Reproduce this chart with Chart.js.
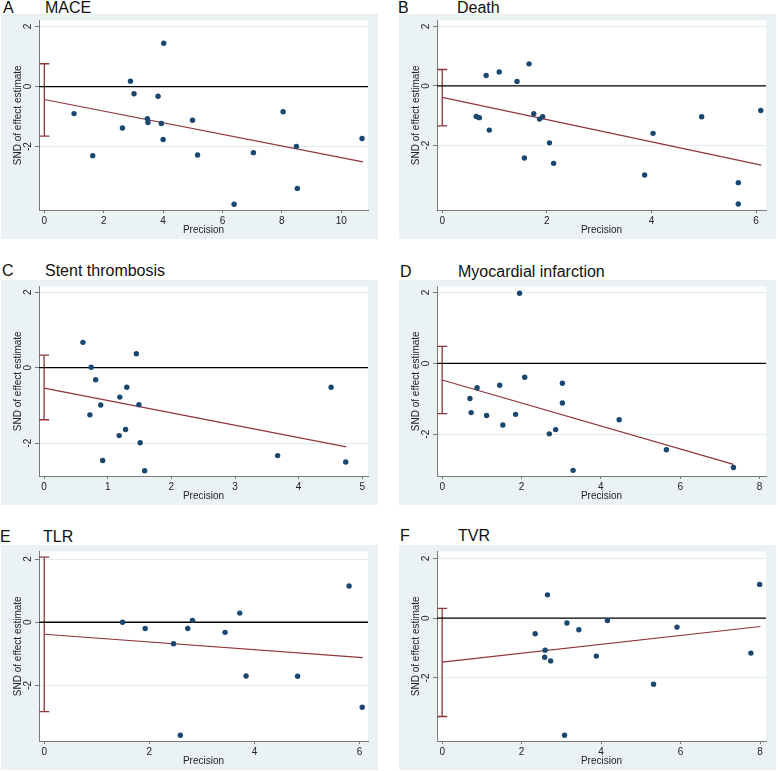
<!DOCTYPE html>
<html>
<head>
<meta charset="utf-8">
<script src="https://cdn.jsdelivr.net/npm/chart.js@4.4.1/dist/chart.umd.min.js"></script>
<style>
body{margin:0;background:#fff;width:778px;height:771px;position:relative;overflow:hidden;font-family:"Liberation Sans",Arial,sans-serif}
.panel{position:absolute;width:377px;height:225px;background:#eaf2f3}
.ttl{position:absolute;font-size:16px;line-height:15px;color:#111;white-space:nowrap}
</style>
</head>
<body>
<script>
// titles
var letters = ['A', 'B', 'C', 'D', 'E', 'F']
var outcomes = ['MACE', 'Death', 'Stent thrombosis', 'Myocardial infarction', 'TLR', 'TVR']

// tick labels
var yTicks = [-2, 0, 2]
var xTicksA = [0, 2, 4, 6, 8, 10]
var xTicksB = [0, 2, 4, 6]
var xTicksC = [0, 1, 2, 3, 4, 5]
var xTicksD = [0, 2, 4, 6, 8]
var xTicksE = [0, 2, 4, 6]
var xTicksF = [0, 2, 4, 6, 8]

// axis ranges [min, max]
var xRangeA = [-0.18, 10.9], yRangeA = [-4.11, 2.2]
var xRangeB = [-0.1, 6.19], yRangeB = [-4.18, 2.2]
var xRangeC = [-0.08, 5.09], yRangeC = [-2.87, 2.15]
var xRangeD = [-0.13, 8.16], yRangeD = [-3.18, 2.17]
var xRangeE = [-0.1, 6.16], yRangeE = [-3.76, 2.24]
var xRangeF = [-0.13, 8.15], yRangeF = [-4.11, 2.23]

// A MACE
var precisionA = [1.0, 1.63, 2.63, 2.9, 3.02, 3.47, 3.49, 3.83, 3.94, 4.0, 4.02, 4.99, 5.16, 6.39, 7.04, 8.04, 8.49, 8.52, 10.7]
var sndA = [-0.9, -2.3, -1.38, 0.18, -0.24, -1.07, -1.2, -0.32, -1.23, -1.76, 1.44, -1.12, -2.28, -3.92, -2.2, -0.84, -1.99, -3.39, -1.73]
var fitXA = [0, 10.73], fitYA = [-0.43, -2.51]
var ciA = [0.76, -1.65]

// B Death
var precisionB = [0.65, 0.71, 0.84, 0.9, 1.09, 1.43, 1.57, 1.66, 1.75, 1.86, 1.92, 2.05, 2.13, 3.87, 4.03, 4.96, 5.66, 5.66, 6.09]
var sndB = [-1.03, -1.07, 0.35, -1.49, 0.47, 0.15, -2.43, 0.74, -0.94, -1.12, -1.04, -1.92, -2.61, -3.0, -1.6, -1.04, -3.26, -3.98, -0.83]
var fitXB = [0, 6.1], fitYB = [-0.39, -2.67]
var ciB = [0.55, -1.35]

// C Stent thrombosis
var precisionC = [0.61, 0.74, 0.72, 0.81, 0.89, 0.92, 1.18, 1.19, 1.28, 1.3, 1.45, 1.49, 1.51, 1.58, 3.67, 4.51, 4.74]
var sndC = [0.67, 0.01, -1.25, -0.32, -0.99, -2.46, -1.8, -0.78, -1.64, -0.52, 0.37, -0.98, -1.99, -2.73, -2.33, -0.52, -2.5]
var fitXC = [0, 4.75], fitYC = [-0.54, -2.1]
var ciC = [0.33, -1.38]

// D Myocardial infarction
var precisionD = [0.7, 0.73, 0.88, 1.12, 1.45, 1.53, 1.85, 1.95, 2.08, 2.7, 2.86, 3.03, 3.03, 3.3, 4.46, 5.65, 7.34]
var sndD = [-0.99, -1.39, -0.69, -1.47, -0.62, -1.74, -1.44, 1.98, -0.39, -1.99, -1.87, -0.56, -1.12, -3.02, -1.59, -2.44, -2.94]
var fitXD = [0, 7.34], fitYD = [-0.47, -2.85]
var ciD = [0.48, -1.42]

// E TLR
var precisionE = [1.49, 1.92, 2.46, 2.59, 2.73, 2.82, 3.44, 3.72, 3.84, 4.82, 5.8, 6.05]
var sndE = [0.0, -0.2, -0.68, -3.58, -0.2, 0.06, -0.32, 0.29, -1.7, -1.71, 1.15, -2.69]
var fitXE = [0, 6.06], fitYE = [-0.38, -1.12]
var ciE = [2.06, -2.83]

// F TVR
var precisionF = [2.34, 2.59, 2.58, 2.65, 2.73, 3.08, 3.14, 3.44, 3.88, 4.16, 5.32, 5.91, 7.77, 7.99]
var sndF = [-0.52, -1.07, -1.31, 0.78, -1.43, -3.92, -0.16, -0.39, -1.27, -0.08, -2.21, -0.3, -1.17, 1.13]
var fitXF = [0, 8.01], fitYF = [-1.47, -0.28]
var ciF = [0.33, -3.29]

var navy = '#1a476f'
var maroon = '#90353b'
var axisGray = '#7a7a7a'
var txt = '#222'
var fontFam = '"Liberation Sans", Arial, sans-serif'

// where things go on the page
var panels = [
    {left: 1, top: 14, tTop: 0, letterX: 3, nameX: 45, px: precisionA, sn: sndA, fx: fitXA, fy: fitYA, ci: ciA, xr: xRangeA, yr: yRangeA, xt: xTicksA},
    {left: 399, top: 14, tTop: 0, letterX: 398, nameX: 457, px: precisionB, sn: sndB, fx: fitXB, fy: fitYB, ci: ciB, xr: xRangeB, yr: yRangeB, xt: xTicksB},
    {left: 1, top: 280, tTop: 263, letterX: 2, nameX: 45, px: precisionC, sn: sndC, fx: fitXC, fy: fitYC, ci: ciC, xr: xRangeC, yr: yRangeC, xt: xTicksC},
    {left: 399, top: 280, tTop: 264, letterX: 400, nameX: 458, px: precisionD, sn: sndD, fx: fitXD, fy: fitYD, ci: ciD, xr: xRangeD, yr: yRangeD, xt: xTicksD},
    {left: 1, top: 545, tTop: 529, letterX: 0, nameX: 43, px: precisionE, sn: sndE, fx: fitXE, fy: fitYE, ci: ciE, xr: xRangeE, yr: yRangeE, xt: xTicksE},
    {left: 399, top: 545, tTop: 528, letterX: 400, nameX: 458, px: precisionF, sn: sndF, fx: fitXF, fy: fitYF, ci: ciF, xr: xRangeF, yr: yRangeF, xt: xTicksF}
]

// white plot area
const plotBg = {
    id: 'plotBg',
    beforeDraw(chart) {
        const a = chart.chartArea
        chart.ctx.save()
        chart.ctx.fillStyle = '#ffffff'
        chart.ctx.fillRect(a.left, a.top, a.right - a.left, a.bottom - a.top)
        chart.ctx.restore()
    }
}

// stata style vertical y labels
const rotatedYTicks = {
    id: 'rotatedYTicks',
    afterDraw(chart) {
        const ys = chart.scales.y
        const ctx = chart.ctx
        ctx.save()
        ctx.font = '10px ' + fontFam
        ctx.fillStyle = txt
        ctx.textAlign = 'center'
        ctx.textBaseline = 'middle'
        ys.ticks.forEach(t => {
            ctx.save()
            ctx.translate(27, ys.getPixelForValue(t.value))
            ctx.rotate(-Math.PI / 2)
            ctx.fillText(String(t.value), 0, 0)
            ctx.restore()
        })
        ctx.restore()
    }
}

panels.forEach((p, i) => {
    var l = document.createElement('div')
    l.className = 'ttl'
    l.style.left = p.letterX + 'px'
    l.style.top = p.tTop + 'px'
    l.textContent = letters[i]
    document.body.appendChild(l)
    var n = document.createElement('div')
    n.className = 'ttl'
    n.style.left = p.nameX + 'px'
    n.style.top = p.tTop + 'px'
    n.textContent = outcomes[i]
    document.body.appendChild(n)

    var box = document.createElement('div')
    box.className = 'panel'
    box.style.left = p.left + 'px'
    box.style.top = p.top + 'px'
    var cv = document.createElement('canvas')
    cv.width = 377
    cv.height = 225
    box.appendChild(cv)
    document.body.appendChild(box)

    var pts = p.px.map((x, k) => ({x: x, y: p.sn[k]}))
    var fit = p.fx.map((x, k) => ({x: x, y: p.fy[k]}))
    var zero = p.xr.map(x => ({x: x, y: 0}))
    var ci = p.ci.map(y => ({x: 0, y: y}))

    new Chart(cv, {
        type: 'scatter',
        data: {
            datasets: [
                {data: pts, pointRadius: 2.7, pointBackgroundColor: navy, pointBorderWidth: 0, showLine: false},
                {type: 'line', data: fit, borderColor: maroon, borderWidth: 1.2, pointRadius: 0, fill: false},
                {type: 'line', data: zero, borderColor: '#000', borderWidth: 1.3, pointRadius: 0, fill: false},
                {type: 'line', data: ci, borderColor: maroon, borderWidth: 1.3, pointStyle: 'line',
                    pointRadius: 5, pointBorderColor: maroon, pointBorderWidth: 1.3, fill: false}
            ]
        },
        options: {
            responsive: false,
            animation: false,
            devicePixelRatio: 1,
            layout: {padding: {top: 6.5, right: 10, left: 0, bottom: 0}},
            plugins: {legend: {display: false}, tooltip: {enabled: false}},
            scales: {
                x: {
                    type: 'linear', min: p.xr[0], max: p.xr[1],
                    afterBuildTicks: s => { s.ticks = p.xt.map(v => ({value: v})) },
                    afterFit: s => { s.height = 29 },
                    ticks: {font: {size: 10, family: fontFam}, color: txt, padding: 2, autoSkip: false, maxRotation: 0},
                    grid: {drawOnChartArea: false, tickLength: 3, tickColor: axisGray},
                    border: {color: axisGray, width: 1},
                    title: {display: true, text: 'Precision', color: txt, font: {size: 10, family: fontFam}, padding: {top: 0, bottom: 2.5}}
                },
                y: {
                    type: 'linear', min: p.yr[0], max: p.yr[1],
                    afterBuildTicks: s => { s.ticks = yTicks.map(v => ({value: v})) },
                    afterFit: s => { s.width = 38 },
                    ticks: {display: false},
                    grid: {color: '#e3ecee', tickLength: 4, tickColor: axisGray},
                    border: {color: axisGray, width: 1},
                    title: {display: true, text: 'SND of effect estimate', color: txt, font: {size: 10, family: fontFam}, padding: {top: 11, bottom: 0}}
                }
            }
        },
        plugins: [plotBg, rotatedYTicks]
    })
})
</script>
</body>
</html>
